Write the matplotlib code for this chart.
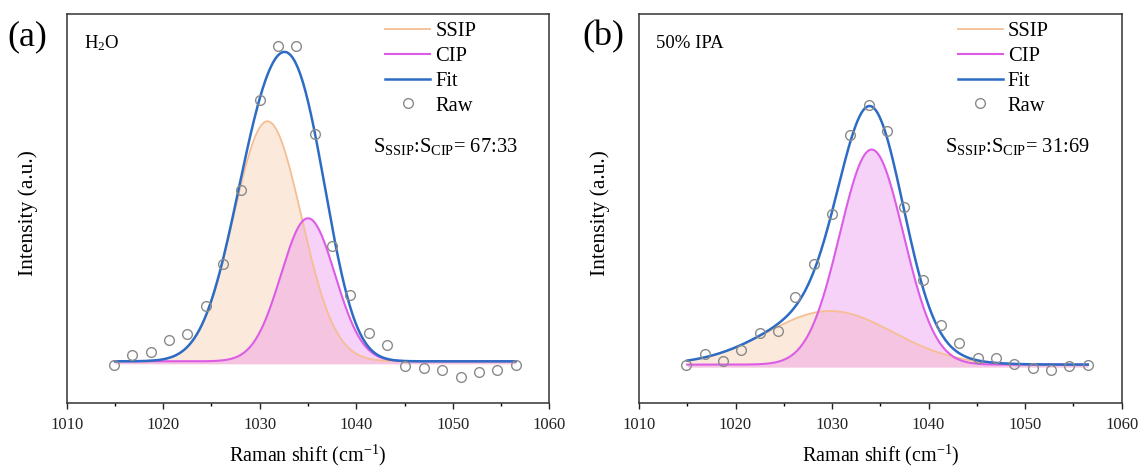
import numpy as np
import matplotlib
matplotlib.use('Agg')
import matplotlib.pyplot as plt
from matplotlib.ticker import MultipleLocator

plt.rcParams['font.family'] = ['Liberation Serif', 'DejaVu Serif']
plt.rcParams['mathtext.fontset'] = 'custom'
plt.rcParams['mathtext.rm'] = 'Liberation Serif'
plt.rcParams['mathtext.it'] = 'Liberation Serif:italic'

########################################
# data (intensity in arbitrary units)

raw_x = [1014.9, 1016.8, 1018.7, 1020.6, 1022.5, 1024.4, 1026.2, 1028.1, 1030.0,
         1031.9, 1033.8, 1035.7, 1037.5, 1039.4, 1041.3, 1043.2, 1045.1, 1047.0,
         1048.9, 1050.8, 1052.7, 1054.6, 1056.5]

raw_h2o = [-3.3, 6.7, 9.7, 21, 27.7, 55, 97.7, 171, 261.7, 315.7, 315.7, 227,
           115.7, 66, 28.7, 16.7, -5, -7, -9, -15.7, -10.7, -9, -3.3]
raw_ipa = [-3.3, 7, 0.3, 11, 28.7, 30, 64.3, 97.7, 147.7, 226.7, 256.7, 230.3,
           154.3, 81, 36, 18.3, 3.3, 3.3, -2.3, -6.7, -8.3, -4.3, -3.3]

# gaussian components: centre, height above baseline, sigma
ssip_h2o = (1030.8, 240, 3.5)
cip_h2o = (1035.0, 143, 2.8)
base_h2o = 0.0

ssip_ipa = (1029.8, 53.6, 6.5)
cip_ipa = (1034.1, 215, 3.3)
base_ipa = -3.3

ratio_h2o = '67:33'
ratio_ipa = '31:69'

########################################

c_ssip = '#F5BE93'
c_cip = '#DC5CE6'
c_fit = '#2D6CC5'
c_raw = '#8A8A8A'


def gauss(x, p):
    c, h, s = p
    return h * np.exp(-(x - c) ** 2 / (2 * s ** 2))


def draw_panel(ax, ssip, cip, base, raw, label, ratio):
    x = np.linspace(1015, 1056.5, 600)
    y1 = base + gauss(x, ssip)
    y2 = base + gauss(x, cip)
    fit = base + gauss(x, ssip) + gauss(x, cip)
    floor = base - 2.5

    ax.fill_between(x, floor, y1, color='#F9D6B8', alpha=0.5, lw=0)
    ax.fill_between(x, floor, y2, color='#E77FEF', alpha=0.35, lw=0)
    ax.plot(x, y1, color=c_ssip, lw=1.3, label='SSIP')
    ax.plot(x, y2, color=c_cip, lw=1.5, label='CIP')
    ax.plot(x, fit, color=c_fit, lw=1.8, label='Fit')
    ax.plot(raw_x, raw, 'o', ls='none', mfc='none', mec=c_raw, mew=1.0,
            ms=7, label='Raw')

    ax.set_xlim(1010, 1060)
    ax.set_ylim(-42, 347)
    ax.xaxis.set_major_locator(MultipleLocator(10))
    ax.xaxis.set_minor_locator(MultipleLocator(5))
    ax.set_yticks([])
    ax.tick_params(axis='x', which='major', direction='out', length=4,
                   width=1, labelsize=12, pad=6, colors='#222222')
    ax.tick_params(axis='x', which='minor', direction='out', length=2.2, width=1)
    for sp in ax.spines.values():
        sp.set_linewidth(1.1)
        sp.set_color('#333333')

    ax.legend(loc='upper left', bbox_to_anchor=(0.66, 0.98), frameon=False,
              fontsize=14.8, handlelength=2.2, handletextpad=0.25,
              labelspacing=0.26, borderpad=0, borderaxespad=0, numpoints=1)

    ax.text(0.035, 0.925, label, transform=ax.transAxes, fontsize=13.5,
            ha='left', va='center')
    ax.text(0.634, 0.659, r'S$_{\mathrm{SSIP}}$:S$_{\mathrm{CIP}}$= ' + ratio,
            transform=ax.transAxes, fontsize=14.7, ha='left', va='center')


fig = plt.figure(figsize=(11.38, 4.66), dpi=100)
ax_a = fig.add_axes([0.0586, 0.1345, 0.4241, 0.835])
ax_b = fig.add_axes([0.5615, 0.1345, 0.4241, 0.835])

draw_panel(ax_a, ssip_h2o, cip_h2o, base_h2o, raw_h2o, r'H$_2$O', ratio_h2o)
draw_panel(ax_b, ssip_ipa, cip_ipa, base_ipa, raw_ipa, '50% IPA', ratio_ipa)

fig.text(0.024, 0.922, '(a)', fontsize=26, ha='center', va='center')
fig.text(0.530, 0.922, '(b)', fontsize=26, ha='center', va='center')

for ax in (ax_a, ax_b):
    pos = ax.get_position()
    fig.text(pos.x0 - 0.034, pos.y0 + pos.height * 0.49, 'Intensity (a.u.)',
             rotation=90, fontsize=15.5, ha='center', va='center')
    fig.text(pos.x0 + pos.width / 2, 1 - 455 / 466, r'Raman shift (cm$^{-1}$)',
             fontsize=14.5, ha='center', va='center')

fig.savefig('out.png', dpi=100)
